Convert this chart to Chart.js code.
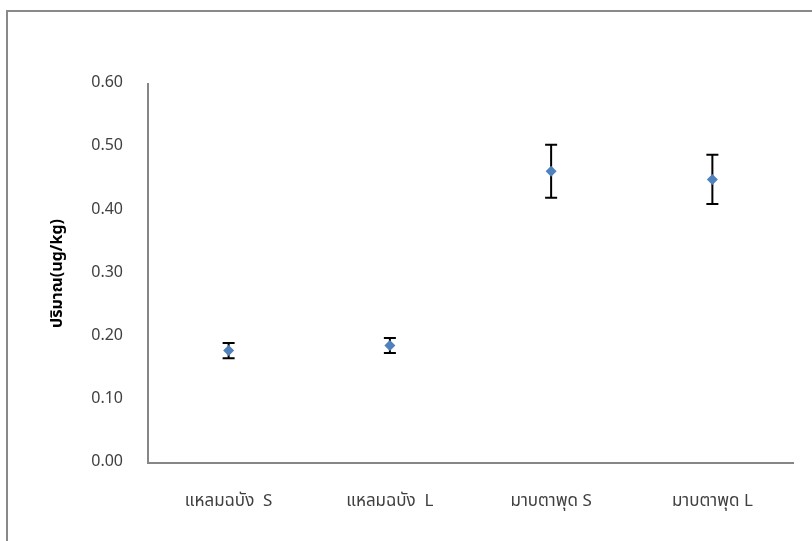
<!DOCTYPE html>
<html>
<head>
<meta charset="utf-8">
<script src="https://cdn.jsdelivr.net/npm/chart.js@4"></script>
<style>
  html, body { margin: 0; padding: 0; background: #fff; overflow: hidden; }
  #frame {
    position: absolute; left: 6px; top: 10px; width: 900px; height: 700px;
    border-left: 2px solid #898989; border-top: 2px solid #898989;
  }
  #wrap { position: absolute; left: 0; top: 0; width: 812px; height: 541px; }
</style>
</head>
<body>
<div id="frame"></div>
<div id="wrap"><canvas id="chart" width="812" height="541"></canvas></div>
<script>
/* sample sites and measured amounts (ug/kg) */
const categories = ['แหลมฉบัง  S', 'แหลมฉบัง  L', 'มาบตาพุด S', 'มาบตาพุด L'];
const means = [0.178, 0.186, 0.462, 0.449];
const errors = [0.012, 0.012, 0.042, 0.039];
const yTicks = [0, 0.1, 0.2, 0.3, 0.4, 0.5, 0.6];

const FONT = "'Noto Sans Thai', 'Noto Sans', 'DejaVu Sans', sans-serif";
const AXIS = '#868686';

// draws +/- error bars under the markers
const errorBars = {
  id: 'errorBars',
  beforeDatasetsDraw(chart) {
    const { ctx, scales: { x, y } } = chart;
    ctx.save();
    ctx.strokeStyle = '#000';
    ctx.lineWidth = 2;
    means.forEach((m, i) => {
      const px = x.getPixelForValue(i);
      const top = y.getPixelForValue(m + errors[i]);
      const bot = y.getPixelForValue(m - errors[i]);
      ctx.beginPath();
      ctx.moveTo(px, top); ctx.lineTo(px, bot);
      ctx.moveTo(px - 6, top); ctx.lineTo(px + 6, top);
      ctx.moveTo(px - 6, bot); ctx.lineTo(px + 6, bot);
      ctx.stroke();
    });
    ctx.restore();
  }
};

new Chart(document.getElementById('chart'), {
  type: 'line',
  data: {
    labels: categories,
    datasets: [{
      data: means,
      showLine: false,
      pointStyle: 'rectRot',
      pointRadius: 5.5,
      pointHoverRadius: 5.5,
      backgroundColor: '#4F81BD',
      borderColor: '#4F81BD',
      borderWidth: 0
    }]
  },
  options: {
    responsive: false,
    animation: false,
    events: [],
    layout: { padding: { top: 84, right: 19, bottom: 0, left: 0 } },
    plugins: { legend: { display: false }, tooltip: { enabled: false } },
    scales: {
      x: {
        offset: true,
        grid: { display: false, drawTicks: false },
        border: { color: AXIS, width: 2 },
        ticks: { color: '#404040', font: { family: FONT, size: 17 }, padding: 29, maxRotation: 0 },
        afterFit: s => { s.height = 78; }
      },
      y: {
        min: 0,
        max: 0.6,
        afterBuildTicks: s => { s.ticks = yTicks.map(v => ({ value: v })); },
        grid: { display: false, drawTicks: false },
        border: { color: AXIS, width: 2 },
        ticks: {
          color: '#404040',
          font: { family: FONT, size: 16 },
          padding: 25,
          callback: v => v.toFixed(2)
        },
        title: {
          display: true,
          text: 'ปริมาณ(ug/kg)',
          color: '#000',
          font: { family: FONT, size: 16, weight: 'bold' },
          padding: { top: 49 }
        },
        afterFit: s => { s.width = 148; }
      }
    }
  },
  plugins: [errorBars]
});
</script>
</body>
</html>
